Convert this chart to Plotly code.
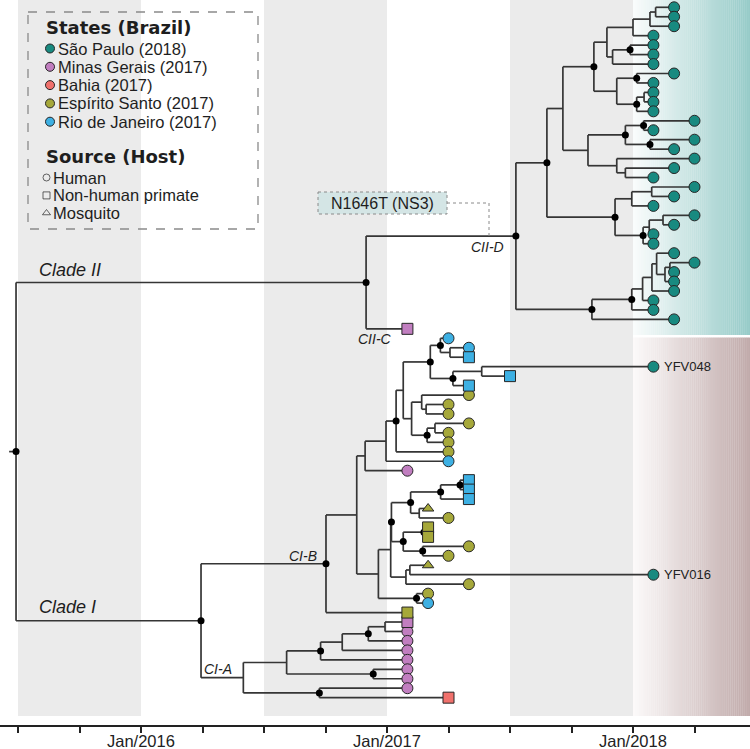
import plotly.graph_objects as go

# ---------------- data ----------------
# leaves, top to bottom
leaf_state = (["SP"] * 34 + ["MG"] +
              ["RJ", "RJ", "RJ", "SP", "RJ", "RJ"] + ["ES"] * 7 +
              ["RJ", "MG", "RJ", "RJ", "RJ", "ES", "ES", "ES", "ES", "ES", "ES", "ES",
               "SP", "ES", "ES", "RJ", "ES", "MG"] + ["MG"] * 7 + ["BA"])
leaf_host = (["H"] * 34 + ["P"] +
             ["H", "H", "P", "H", "P", "P"] + ["H"] * 9 +
             ["P", "P", "P", "M", "H", "P", "P", "H", "H", "M", "H", "H", "H", "H", "P", "P"] +
             ["H"] * 7 + ["P"])
leaf_date = [2018.167, 2018.167, 2018.167, 2018.083, 2018.083, 2018.083, 2018.083, 2018.167,
             2018.083, 2018.083, 2018.083, 2018.083, 2018.25, 2018.083, 2018.25, 2018.167,
             2018.25, 2018.167, 2018.083, 2018.25, 2018.167, 2018.083, 2018.25, 2018.167,
             2018.083, 2018.083, 2018.167, 2018.25, 2018.167, 2018.167, 2018.167, 2018.083,
             2018.083, 2018.167,
             2017.083,
             2017.25, 2017.333, 2017.333, 2018.083, 2017.5, 2017.333, 2017.333, 2017.25,
             2017.25, 2017.333, 2017.25, 2017.25, 2017.25, 2017.25, 2017.083, 2017.333,
             2017.333, 2017.333, 2017.167, 2017.25, 2017.167, 2017.167, 2017.333, 2017.25,
             2017.167, 2018.083, 2017.333, 2017.167, 2017.167, 2017.083,
             2017.083, 2017.083, 2017.083, 2017.083, 2017.083, 2017.083, 2017.083, 2017.083,
             2017.25]
tip_labels = {38: "YFV048", 60: "YFV016"}

# internal nodes: name, date (decimal year), children, posterior-support dot
node_name = ["root", "CII", "CIID", "A", "A1", "A1a", "A1ai", "a1", "a2", "a3", "a4", "a5",
             "A1aii", "b1", "b2", "b3", "A1b", "c1", "c2", "c3", "B", "c4",
             "A2", "d1", "d2", "d3", "d4", "d5",
             "C", "e6", "e5", "e4", "e3", "e2", "e1",
             "CI", "CIB", "D", "ni", "nh", "ng", "nf", "ne", "nb", "na", "nd", "nc",
             "f1", "f2", "f3", "f4", "f5",
             "R", "r1", "P", "p1", "p2", "Q", "q1", "q2", "q21", "q3", "q4", "q5", "q6",
             "CIA", "s1", "s2", "s3", "s4", "s41", "s5", "s6"]
node_date = [2015.492, 2016.915, 2017.524, 2017.650, 2017.715, 2017.841, 2017.894, 2018.000,
             2018.069, 2018.092, 2017.917, 2017.988,
             2017.934, 2018.015, 2018.015, 2018.045, 2017.817, 2017.969, 2018.043, 2018.069,
             2017.934, 2017.969,
             2017.927, 2017.995, 2018.076, 2018.041, 2018.066, 2018.122,
             2017.833, 2017.995, 2018.039, 2018.077, 2018.096, 2018.130, 2018.150,
             2016.244, 2016.752, 2016.877, 2016.911, 2016.996, 2017.037, 2017.066, 2017.176,
             2017.217, 2017.256, 2017.268, 2017.385,
             2017.100, 2017.141, 2017.159, 2017.163, 2017.195,
             2016.965, 2017.120, 2017.015, 2017.077, 2017.093, 2017.018, 2017.096, 2017.218,
             2017.297, 2017.131, 2017.066, 2017.150, 2017.145,
             2016.416, 2016.592, 2016.730, 2016.818, 2016.924, 2016.992, 2016.944, 2016.725]
node_kids = [["CII", "CI"], ["CIID", 34], ["A", "C"], ["A1", "A2"], ["A1a", "A1b"],
             ["A1ai", "A1aii"], ["a1", "a4"], ["a2", 3], ["a3", 2], [0, 1], ["a5", 6], [4, 5],
             ["b1", "b2"], [7, 8], ["b3", 11], [9, 10], ["c1", "B"], ["c2", "c3"], [12, 13],
             [14, 15], [16, "c4"], [17, 18],
             ["d1", "d3"], ["d2", 21], [19, 20], ["d4", 25], ["d5", 24], [22, 23],
             ["e6", 33], ["e5", 32], ["e4", 31], ["e3", 30], [26, "e2"], ["e1", 29], [27, 28],
             ["CIB", "CIA"], ["D", 64], ["ni", "R"], ["nh", 49], ["ng", 48], ["nf", 47],
             ["ne", "f1"], ["nb", "nd"], [35, "na"], [36, 37], ["nc", 40], [38, 39],
             ["f2", "f4"], [41, "f3"], [42, 43], ["f5", 46], [44, 45],
             ["P", "r1"], [62, 63], ["Q", "p1"], ["p2", 61], [59, 60], ["q1", "q4"],
             ["q2", "q3"], ["q21", 52], [50, 51], [53, 54], ["q5", "q6"], [55, 56], [57, 58],
             ["s1", "s6"], ["s2", "s5"], ["s3", 69], ["s4", 68], ["s41", 67], [65, 66],
             [70, 71], [72, 73]]
node_dot = [1, 1, 1, 1, 0, 1, 0, 0, 0, 0, 0, 1,
            0, 1, 1, 0, 0, 1, 1, 1, 0, 0,
            1, 0, 0, 1, 0, 0,
            1, 1, 0, 0, 0, 0, 0,
            1, 1, 0, 0, 0, 1, 0, 1, 1, 0, 1, 0,
            0, 0, 0, 1, 0,
            0, 1, 0, 0, 0, 1, 1, 1, 1, 0, 1, 1, 1,
            0, 0, 1, 0, 1, 0, 1, 1]

state_names = {"SP": "São Paulo (2018)", "MG": "Minas Gerais (2017)", "BA": "Bahia (2017)",
               "ES": "Espírito Santo (2017)", "RJ": "Rio de Janeiro (2017)"}
host_names = {"H": "Human", "P": "Non-human primate", "M": "Mosquito"}
tick_years = [2016, 2017, 2018]
tick_text = ["Jan/2016", "Jan/2017", "Jan/2018"]

# ---------------- styles ----------------
state_color = {"SP": "#188a80", "MG": "#c17ec0", "BA": "#f0716c", "ES": "#a6a83a", "RJ": "#3db0e3"}
host_symbol = {"H": "circle", "P": "square", "M": "triangle-up"}
LINE = "#353535"
FONT = "Liberation Sans, Arial, sans-serif"

# pixel <-> data mapping (layout)
PX_YEAR = 246.0
X0 = 2016 - 141 / PX_YEAR
X1 = 2016 + (750 - 141) / PX_YEAR
LEAF_PX, LEAF_Y0 = 9.457, 7.3
PLOT_H = 725
Y_TOP = -LEAF_Y0 / LEAF_PX
Y_BOT = (PLOT_H - LEAF_Y0) / LEAF_PX

# ---------------- tree layout ----------------
nidx = {n: i for i, n in enumerate(node_name)}
pos = {}


def place(k):
    if isinstance(k, int):
        return leaf_date[k], float(k)
    if k in pos:
        return pos[k]
    i = nidx[k]
    ys = [place(c)[1] for c in node_kids[i]]
    pos[k] = (node_date[i], (min(ys) + max(ys)) / 2)
    return pos[k]


place("root")

lx, ly = [], []
rx, ry = pos["root"]
lx += [rx - 0.028, rx, None]
ly += [ry, ry, None]
for i, n in enumerate(node_name):
    x, y = pos[n]
    kids = [place(c) for c in node_kids[i]]
    ys = [k[1] for k in kids]
    lx += [x, x, None]
    ly += [min(ys), max(ys), None]
    for kx, ky in kids:
        lx += [x, kx, None]
        ly += [ky, ky, None]

fig = go.Figure()

# background bands
shapes = []
for y0 in [2015.5, 2016.5, 2017.5]:
    shapes.append(dict(type="rect", xref="x", yref="y", x0=y0, x1=y0 + 0.5,
                       y0=Y_TOP, y1=(716 - LEAF_Y0) / LEAF_PX, fillcolor="#ebebeb",
                       line_width=0, layer="below"))


def grad(c0, c1, ya, yb, n=60):
    out = []
    for j in range(n):
        t = (j + 0.5) / n
        c = tuple(int(round(c0[k] + (c1[k] - c0[k]) * t)) for k in range(3))
        xa = 2018.0 + (X1 - 2018.0) * j / n
        xb = 2018.0 + (X1 - 2018.0) * (j + 1) / n + 0.001
        out.append(dict(type="rect", xref="x", yref="y", x0=xa, x1=xb, y0=ya, y1=yb,
                        fillcolor="rgb(%d,%d,%d)" % c, line_width=0, layer="below"))
    return out


shapes += grad((250, 252, 252), (150, 203, 200), Y_TOP, (335 - LEAF_Y0) / LEAF_PX)
shapes += grad((252, 250, 250), (192, 170, 170), (337.5 - LEAF_Y0) / LEAF_PX,
               (716 - LEAF_Y0) / LEAF_PX)

# legend box and mutation box (pixel overlay axes)
shapes.append(dict(type="rect", xref="x2", yref="y2", x0=28, x1=258, y0=12, y1=229,
                   line=dict(color="#8a8a8a", width=1.3, dash="dash"), fillcolor="rgba(0,0,0,0)"))
shapes.append(dict(type="rect", xref="x2", yref="y2", x0=318, x1=447, y0=192, y1=214,
                   line=dict(color="#8a8a8a", width=1, dash="dot"), fillcolor="#d4e5e5"))
shapes.append(dict(type="path", xref="x2", yref="y2", path="M 447 203 L 489 203 L 489 236",
                   line=dict(color="#8a8a8a", width=1, dash="dot")))

fig.add_trace(go.Scatter(x=lx, y=ly, mode="lines", line=dict(color=LINE, width=1.7),
                         hoverinfo="skip"))

dx = [pos[n][0] for i, n in enumerate(node_name) if node_dot[i]]
dy = [pos[n][1] for i, n in enumerate(node_name) if node_dot[i]]
fig.add_trace(go.Scatter(x=dx, y=dy, mode="markers",
                         marker=dict(color="black", size=7, line_width=0), hoverinfo="skip"))

for s in state_color:
    for h in host_symbol:
        ids = [i for i in range(len(leaf_state)) if leaf_state[i] == s and leaf_host[i] == h]
        if not ids:
            continue
        fig.add_trace(go.Scatter(
            x=[leaf_date[i] for i in ids], y=[float(i) for i in ids], mode="markers",
            marker=dict(symbol=host_symbol[h], color=state_color[s],
                        size=11 if h != "M" else 10,
                        line=dict(color="#262626", width=1)),
            name=state_names[s] + " / " + host_names[h]))

annotations = []
for i, t in tip_labels.items():
    annotations.append(dict(x=leaf_date[i], y=float(i), xref="x", yref="y", text=t,
                            showarrow=False, xanchor="left", yanchor="middle", xshift=9,
                            font=dict(family=FONT, size=13, color="#222")))

# x tick labels (placed as text just below the axis)
for yr, t in zip(tick_years, tick_text):
    annotations.append(dict(x=yr, y=(PLOT_H - 741) / PLOT_H, xref="x", yref="paper", text=t,
                            showarrow=False, xanchor="center", yanchor="middle",
                            font=dict(family=FONT, size=16.5, color="#222")))

# legend
state_rows = [48.5, 66.8, 85.1, 103.4, 121.7]
host_rows = [177.5, 195.4, 213.0]
fig.add_trace(go.Scatter(
    x=[50] * 5, y=state_rows, xaxis="x2", yaxis="y2", mode="markers",
    marker=dict(size=9, color=[state_color[k] for k in state_names],
                line=dict(color="#262626", width=1)), hoverinfo="skip"))
fig.add_trace(go.Scatter(
    x=[46.5] * 3, y=host_rows, xaxis="x2", yaxis="y2", mode="markers",
    marker=dict(size=[7, 7, 7], symbol=[host_symbol[k] + "-open" for k in host_names],
                color="#262626", line=dict(width=1)), hoverinfo="skip"))


def txt(x, y, s, size=17, bold=False, italic=False, anchor="left", family=FONT):
    if bold:
        s = "<b>" + s + "</b>"
    if italic:
        s = "<i>" + s + "</i>"
    annotations.append(dict(x=x, y=y, xref="x2", yref="y2", text=s, showarrow=False,
                            xanchor=anchor, yanchor="middle",
                            font=dict(family=family, size=size, color="#1e1e1e")))


txt(44, 27, "States (Brazil)", size=18, bold=True, family="DejaVu Sans, Verdana, sans-serif")
for k, yv in zip(state_names, state_rows):
    txt(55.5, yv, state_names[k], size=16.5)
txt(44, 156.5, "Source (Host)", size=18, bold=True, family="DejaVu Sans, Verdana, sans-serif")
for k, yv in zip(host_names, host_rows):
    txt(51, yv, host_names[k], size=16.5)

txt(37, 270, "Clade II", size=18, italic=True)
txt(37, 607, "Clade I", size=18, italic=True)
txt(506, 247, "CII-D", size=14, italic=True, anchor="right")
txt(394, 339, "CII-C", size=14, italic=True, anchor="right")
txt(319, 556, "CI-B", size=14, italic=True, anchor="right")
txt(234, 669, "CI-A", size=14, italic=True, anchor="right")
txt(382.5, 203, "N1646T (NS3)", size=16, anchor="center")

quarters = [2015.5 + 0.25 * k for k in range(12)]

fig.update_layout(
    width=750, height=749, margin=dict(l=0, r=0, t=0, b=749 - PLOT_H, autoexpand=False),
    plot_bgcolor="white", paper_bgcolor="white", showlegend=False,
    shapes=shapes, annotations=annotations,
    xaxis=dict(range=[X0, X1], tickvals=quarters, ticktext=[""] * len(quarters),
               ticks="outside", ticklen=6, tickwidth=2, tickcolor="#222", showline=True,
               linecolor="#222", linewidth=2, showgrid=False, zeroline=False,
               automargin=False),
    yaxis=dict(range=[Y_BOT, Y_TOP], visible=False, showgrid=False, zeroline=False,
               automargin=False),
    xaxis2=dict(range=[0, 750], overlaying="x", anchor="y2", visible=False, automargin=False),
    yaxis2=dict(range=[PLOT_H, 0], overlaying="y", anchor="x2", visible=False, automargin=False),
)

fig.write_html("out.html", config={"displayModeBar": False},
               post_script="document.body.style.margin='0px';document.body.style.overflow='hidden';")
